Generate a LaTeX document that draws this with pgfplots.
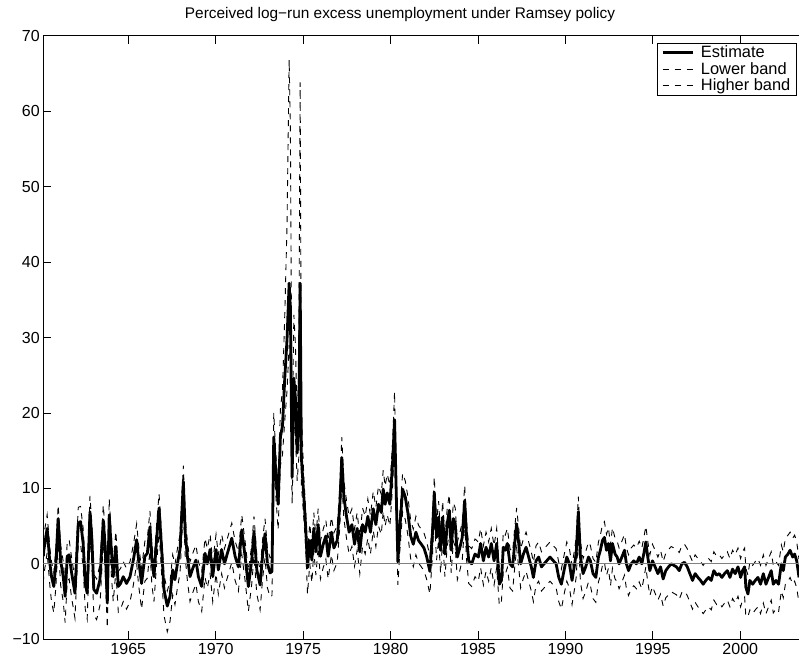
\documentclass[border=0pt]{standalone}
\usepackage{fontspec}
\setmainfont{Liberation Sans}
\usepackage{pgfplots}
\pgfplotsset{compat=1.18}
\usepackage{pgfplotstable}

\pgfplotstableread{
year est lo hi
1960.14 1.0 -2.5 3.0
1960.17 1.8 -1.5 3.8
1960.36 4.7 1.5 6.5
1960.52 0.0 -3.0 2.0
1960.61 -1.7 -5.0 0.3
1960.74 -3.0 -6.5 -1.2
1960.86 0.0 -3.0 2.0
1960.99 6.0 3.0 7.8
1961.13 0.5 -2.8 2.5
1961.28 -1.7 -5.0 0.3
1961.39 -4.3 -7.8 -2.5
1961.51 1.0 -2.2 3.0
1961.62 1.2 -2.0 3.2
1961.76 -1.2 -4.5 0.8
1961.95 -3.9 -7.2 -2.0
1962.14 5.4 2.5 7.5
1962.27 5.6 2.7 7.6
1962.42 2.7 -0.5 4.7
1962.54 -2.6 -6.0 -0.6
1962.65 -3.9 -7.3 -2.0
1962.81 6.9 3.8 9.0
1962.92 3.2 0.0 5.2
1963.03 -3.4 -6.8 -1.4
1963.19 -3.9 -7.4 -2.0
1963.38 -2.1 -5.5 -0.1
1963.57 5.8 2.8 7.8
1963.68 2.3 -1.0 4.3
1963.80 -5.2 -8.5 -3.2
1963.91 6.5 3.4 8.6
1964.03 1.9 -1.4 3.9
1964.14 -1.7 -5.0 0.3
1964.29 2.3 -1.0 4.3
1964.43 -3.0 -6.4 -1.0
1964.56 -2.6 -6.0 -0.6
1964.71 -1.7 -5.0 0.3
1964.90 -2.6 -6.0 -0.6
1965.10 -1.7 -5.0 0.3
1965.29 0.5 -2.8 2.5
1965.48 3.2 0.0 5.3
1965.59 0.5 -2.8 2.5
1965.76 -2.6 -6.0 -0.6
1965.95 1.0 -2.3 3.0
1966.09 1.4 -1.9 3.4
1966.24 4.9 1.8 7.0
1966.35 0.5 -2.8 2.5
1966.47 -1.7 -5.0 0.3
1966.62 3.2 0.0 5.2
1966.76 7.4 4.2 9.3
1966.91 1.9 -1.4 3.9
1967.04 -3.4 -6.8 -1.4
1967.23 -5.6 -9.0 -3.6
1967.39 -4.3 -7.6 -2.3
1967.54 -0.8 -4.1 1.2
1967.67 -2.1 -5.4 -0.1
1967.81 0.0 -3.2 2.0
1967.96 1.9 -1.2 3.9
1968.15 10.9 7.5 13.0
1968.26 4.0 0.8 6.0
1968.38 1.0 -2.2 3.0
1968.53 -1.7 -5.0 0.3
1968.72 -0.4 -3.6 1.6
1968.87 0.5 -2.7 2.5
1969.01 -1.7 -5.0 0.3
1969.20 -3.0 -6.3 -1.0
1969.39 1.4 -1.8 3.4
1969.52 0.0 -3.2 2.0
1969.68 1.9 -1.3 3.9
1969.83 -1.7 -5.0 0.3
1970.02 1.9 -1.3 3.9
1970.15 -0.8 -4.0 1.2
1970.34 1.9 -1.3 3.9
1970.50 0.0 -3.2 2.0
1970.67 1.4 -1.8 3.4
1970.92 3.4 0.2 5.4
1971.11 1.0 -2.2 3.0
1971.30 -0.4 -3.6 1.6
1971.49 4.5 1.3 6.5
1971.68 1.0 -2.2 3.0
1971.87 -3.0 -6.3 -1.0
1972.06 0.5 -2.7 2.5
1972.19 4.3 1.1 6.3
1972.35 -0.8 -4.0 1.2
1972.54 -2.8 -6.1 -0.8
1972.69 1.4 -1.8 3.4
1972.82 4.0 0.8 6.0
1972.96 0.0 -3.2 2.0
1973.11 -1.2 -4.4 0.8
1973.22 -1.0 -4.2 1.0
1973.32 16.8 13.5 20.0
1973.44 12.0 9.0 14.5
1973.57 7.9 4.5 10.0
1973.70 16.8 13.0 20.5
1973.82 18.3 14.5 23.0
1973.95 24.6 19.0 33.0
1974.08 29.8 23.0 45.0
1974.20 37.2 29.0 66.8
1974.27 34.0 27.0 58.0
1974.37 11.5 8.0 16.0
1974.47 24.6 19.0 33.0
1974.56 22.0 17.0 29.0
1974.66 14.7 11.0 19.0
1974.75 18.3 14.0 26.0
1974.83 37.2 29.0 63.8
1974.90 14.1 10.5 20.0
1975.04 8.9 6.0 11.5
1975.15 4.7 2.0 7.0
1975.25 -0.5 -4.0 1.5
1975.38 3.1 0.0 5.3
1975.50 0.5 -2.5 2.6
1975.61 4.7 1.7 6.8
1975.73 1.6 -1.5 3.6
1975.86 5.2 2.2 7.3
1975.99 1.0 -2.0 3.0
1976.15 2.6 -0.5 4.6
1976.30 3.7 0.6 5.8
1976.43 1.0 -2.0 3.0
1976.62 4.2 1.2 6.2
1976.76 2.1 -0.9 4.1
1976.95 3.1 0.2 5.1
1977.10 7.9 5.0 10.0
1977.21 14.1 11.0 16.8
1977.33 8.9 6.0 11.0
1977.48 6.3 3.4 8.4
1977.63 4.2 1.3 6.3
1977.79 5.2 2.3 7.3
1977.94 2.6 -0.3 4.6
1978.09 4.7 1.8 6.8
1978.24 1.6 -1.3 3.6
1978.40 5.2 2.3 7.4
1978.55 4.2 1.3 6.3
1978.70 6.3 3.4 8.6
1978.85 4.2 1.3 6.4
1979.01 7.3 4.4 9.6
1979.16 5.2 2.3 7.5
1979.31 7.9 5.0 10.3
1979.47 6.8 3.9 9.2
1979.58 9.9 7.0 12.4
1979.69 7.9 5.0 10.3
1979.81 9.4 6.5 11.9
1979.96 7.9 5.0 10.4
1980.11 13.1 10.0 15.8
1980.23 19.1 15.8 22.8
1980.34 7.9 5.0 10.2
1980.42 0.3 -2.8 2.3
1980.53 4.7 1.7 6.8
1980.69 9.9 6.9 12.0
1980.84 8.9 5.9 11.0
1980.99 6.8 3.8 8.9
1981.15 3.7 0.7 5.8
1981.30 2.6 -0.4 4.6
1981.45 4.2 1.2 6.3
1981.60 3.1 0.1 5.1
1981.76 2.6 -0.4 4.6
1981.91 2.1 -0.9 4.1
1982.06 1.0 -2.0 3.0
1982.25 -1.0 -4.0 1.0
1982.40 4.2 1.2 6.2
1982.50 9.5 6.5 11.5
1982.63 3.5 0.5 5.5
1982.75 6.2 3.2 8.3
1982.86 1.8 -1.2 3.8
1982.98 6.2 3.2 8.3
1983.11 1.3 -1.7 3.3
1983.24 5.3 2.3 7.4
1983.36 7.1 4.1 9.2
1983.47 1.8 -1.2 3.8
1983.59 6.0 3.0 8.1
1983.70 5.3 2.3 7.4
1983.82 0.9 -2.1 2.9
1983.97 2.2 -0.8 4.2
1984.10 3.5 0.5 5.5
1984.24 8.4 5.4 10.4
1984.35 3.5 0.5 5.5
1984.47 0.4 -2.6 2.4
1984.64 0.0 -3.0 2.0
1984.83 1.3 -1.7 3.3
1985.02 0.9 -2.3 2.9
1985.15 2.7 -0.5 4.7
1985.31 0.4 -2.8 2.4
1985.46 2.2 -1.0 4.2
1985.61 0.9 -2.3 2.9
1985.76 2.7 -0.5 4.7
1985.92 0.4 -2.8 2.4
1986.07 2.7 -0.5 4.7
1986.22 -2.7 -5.5 -0.7
1986.34 -2.2 -5.0 -0.2
1986.45 2.2 -1.0 4.2
1986.56 1.8 -1.4 3.8
1986.68 2.7 -0.5 4.7
1986.83 0.0 -3.2 2.0
1986.98 -0.4 -3.6 1.6
1987.10 2.7 -0.5 4.7
1987.21 5.3 2.1 7.4
1987.33 2.7 -0.5 4.7
1987.44 0.0 -3.2 2.0
1987.60 1.3 -1.9 3.3
1987.75 2.2 -1.0 4.2
1987.90 0.9 -2.3 2.9
1988.05 -0.4 -3.6 1.6
1988.17 -1.8 -5.0 0.2
1988.32 0.4 -2.8 2.4
1988.47 0.9 -2.3 2.9
1988.63 -0.4 -3.6 1.6
1988.78 0.0 -3.2 2.0
1988.93 0.4 -2.8 2.4
1989.12 0.9 -2.3 2.9
1989.31 0.4 -2.8 2.4
1989.47 0.0 -3.2 2.0
1989.62 -1.8 -5.0 0.2
1989.77 -2.7 -6.0 -0.7
1989.92 -0.9 -4.1 1.1
1990.08 0.9 -2.3 2.9
1990.23 0.0 -3.2 2.0
1990.38 -2.2 -5.4 -0.2
1990.53 0.0 -3.2 2.0
1990.62 1.5 -1.7 3.5
1990.74 6.9 3.7 8.9
1990.86 0.9 -2.4 2.9
1991.01 -1.3 -4.6 0.7
1991.16 -0.4 -3.7 1.6
1991.32 0.9 -2.4 2.9
1991.43 0.4 -2.9 2.4
1991.58 -1.3 -4.6 0.7
1991.74 -1.8 -5.1 0.2
1991.89 0.9 -2.4 2.9
1992.00 1.8 -1.5 3.8
1992.12 3.1 -0.2 5.2
1992.23 3.5 0.2 5.6
1992.35 1.8 -1.5 3.9
1992.46 2.7 -0.6 4.8
1992.58 0.4 -2.9 2.5
1992.69 2.7 -0.6 4.8
1992.84 1.3 -2.0 3.4
1992.96 0.9 -2.4 3.0
1993.07 0.0 -3.3 2.1
1993.23 0.9 -2.4 3.0
1993.38 1.8 -1.5 3.9
1993.49 0.0 -3.3 2.1
1993.61 -0.9 -4.2 1.2
1993.76 0.0 -3.3 2.1
1993.91 0.4 -2.9 2.5
1994.06 0.0 -3.3 2.1
1994.22 0.9 -2.4 3.0
1994.37 0.0 -3.3 2.1
1994.48 1.3 -2.0 3.4
1994.60 2.9 -0.4 5.0
1994.71 0.9 -2.4 3.0
1994.83 -0.9 -4.2 1.2
1994.98 0.4 -3.0 2.6
1995.13 -0.4 -3.9 1.8
1995.29 -1.3 -4.8 0.9
1995.44 -0.4 -4.0 1.8
1995.59 -2.0 -5.6 0.3
1995.74 -0.9 -4.5 1.4
1995.90 -0.4 -4.1 1.9
1996.05 0.0 -3.7 2.3
1996.20 -0.2 -3.9 2.1
1996.35 -0.4 -4.1 1.9
1996.51 -0.9 -4.7 1.5
1996.66 0.0 -3.8 2.4
1996.81 0.2 -3.6 2.6
1996.97 -0.4 -4.2 2.0
1997.12 -1.3 -5.1 1.1
1997.27 -2.2 -6.0 0.3
1997.42 -1.3 -5.1 1.2
1997.58 -1.8 -5.7 0.7
1997.73 -2.2 -6.1 0.3
1997.88 -2.7 -6.6 -0.2
1998.03 -2.2 -6.1 0.3
1998.19 -1.8 -5.7 0.7
1998.34 -2.2 -6.1 0.3
1998.49 -0.9 -4.8 1.6
1998.65 -1.5 -5.4 1.0
1998.80 -1.3 -5.2 1.2
1998.95 -1.8 -5.7 0.7
1999.10 -1.3 -5.2 1.2
1999.26 -0.9 -4.8 1.6
1999.41 -1.8 -5.7 0.7
1999.56 -0.7 -4.6 1.8
1999.71 -1.3 -5.2 1.2
1999.87 -0.4 -4.3 2.1
2000.02 -1.8 -5.7 0.7
2000.13 -0.9 -4.8 1.6
2000.25 -0.4 -4.4 2.1
2000.32 -3.1 -7.0 -0.6
2000.44 -4.0 -7.0 -1.5
2000.55 -2.2 -6.1 0.3
2000.71 -2.7 -6.6 -0.2
2000.86 -2.2 -6.1 0.3
2001.01 -1.8 -5.7 0.7
2001.16 -2.7 -6.6 -0.2
2001.32 -1.3 -5.2 1.2
2001.47 -2.7 -6.6 -0.2
2001.62 -1.8 -5.7 0.7
2001.77 -0.9 -4.8 1.6
2001.89 -2.7 -6.5 -0.2
2002.04 -2.2 -6.0 0.3
2002.19 -2.7 -6.4 -0.2
2002.35 0.0 -3.6 2.5
2002.46 -0.9 -4.5 1.6
2002.58 0.9 -2.7 3.4
2002.73 1.3 -2.3 3.8
2002.85 1.8 -1.8 4.2
2003.00 0.9 -2.7 3.4
2003.11 1.3 -2.3 3.8
2003.23 0.4 -3.2 2.9
2003.36 -1.8 -5.2 0.6
}\ramsey

\begin{document}
\begin{tikzpicture}
\begin{axis}[
  name=ax,
  scale only axis,
  width=755.7pt, height=603.6pt,
  xmin=1960.14, xmax=2003.36,
  ymin=-10, ymax=70,
  axis x line*=box, axis y line*=left,
  axis line style={line width=0.8pt},
  tick align=inside,
  major tick length=8pt,
  tick style={line width=0.8pt, black},
  xtick={1965,1970,...,2000},
  ytick={-10,0,...,70},
  yticklabels={−10,0,10,20,30,40,50,60,70},
  /pgf/number format/1000 sep={},
  /pgf/number format/assume math mode=true,
  tick label style={font=\fontsize{16}{19}\selectfont},
  title={Perceived log−run excess unemployment under Ramsey policy},
  title style={font=\fontsize{15.4}{18}\selectfont, at={(axis description cs:0.472,1)}, anchor=south, yshift=4pt},
  legend style={at={(1,1)}, anchor=north east, xshift=-2.3pt, yshift=-7pt,
    draw=black, line width=0.8pt, font=\fontsize{16.4}{19}\selectfont,
    inner xsep=4pt, inner ysep=1pt, row sep=-1pt, column sep=5pt},
  legend cell align=left,
  legend image code/.code={\draw[#1] (0pt,0pt) -- (30pt,0pt);},
]
\addplot[black, line width=2.8pt, line join=round] table[x=year, y=est] {\ramsey};
\addlegendentry{Estimate}
\addplot[black, line width=0.9pt, dash pattern=on 6pt off 6pt] table[x=year, y=lo] {\ramsey};
\addlegendentry{Lower band}
\addplot[black, line width=0.9pt, dash pattern=on 6pt off 6pt] table[x=year, y=hi] {\ramsey};
\addlegendentry{Higher band}
\addplot[gray, line width=1pt, forget plot] coordinates {(1960,0) (2004,0)};
\end{axis}
\pgfresetboundingbox
\path ([xshift=-43.3pt,yshift=-27.7pt]ax.south west) rectangle ([yshift=35.7pt]ax.north east);
\end{tikzpicture}
\end{document}
